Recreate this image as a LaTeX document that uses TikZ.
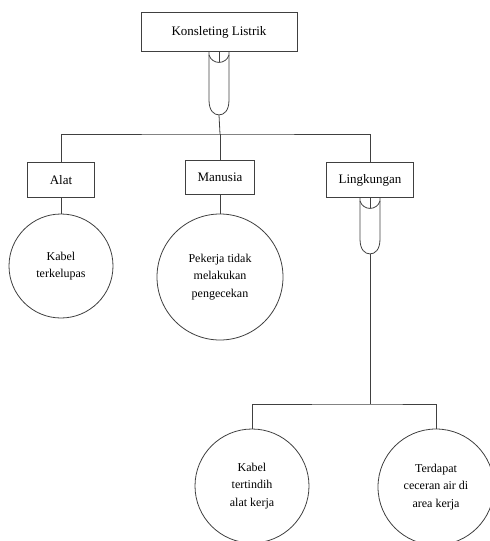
\documentclass[tikz,border=0pt]{standalone}
\usepackage{fontspec}
\setmainfont{Liberation Serif}

\tikzset{
  pics/gate/.style={code={
    \draw (-10,0) -- (-10,#1-15) .. controls (-10,#1-4) and (-5,#1) .. (0,#1)
          .. controls (5,#1) and (10,#1-4) .. (10,#1-15) -- (10,0);
    \draw (-10,3) .. controls (-7,13) and (7,13) .. (10,3);
    \coordinate (-cup) at (0,10.5);
    \coordinate (-bot) at (0,#1);
  }}
}

\begin{document}
\begin{tikzpicture}[x=1pt, y=-1pt, line width=0.8pt, draw=black!75,
    cause/.style ={rectangle, draw, inner sep=0pt, font=\fontsize{13}{15}\selectfont},
    effect/.style ={circle, draw, inner sep=0pt, align=center, font=\fontsize{12}{17.5}\selectfont}]
   \useasboundingbox (0,0) rectangle (490,541);

   \node[cause, minimum width=156pt, minimum height=39pt] (K) at (219,32) {Konsleting Listrik};
   \node[cause, minimum width=67pt, minimum height=35pt] (A) at (61,180) {Alat};
   \node[cause, minimum width=69pt, minimum height=34pt] (M) at (220,177) {Manusia};
   \node[cause, minimum width=87pt, minimum height=35pt] (L) at (370,180) {Lingkungan};

   \node[effect, minimum size=104pt] (A1) at (61,266) {Kabel\\terkelupas};
   \node[effect, minimum size=126pt] (M1) at (220,277) {Pekerja tidak\\melakukan\\pengecekan};
   \node[effect, minimum size=114pt] (L1) at (252,486) {Kabel\\tertindih\\alat kerja};
   \node[effect, minimum size=116pt] (L2) at (436,487) {Terdapat\\ceceran air di\\area kerja};

   \pic (g1) at (K.south) {gate=63};
   \pic (g2) at (L.south) {gate=56};
   \coordinate (bus1) at (220,134);
   \coordinate (bus2) at (370,404);

   \draw (K.south) -- (g1-cup);
   \draw (g1-bot) -- (bus1);
   \draw (A.north) |- (bus1) -| (L.north);
   \draw (bus1) -- (M.north);
   \draw (A.south) -- (A1.north);
   \draw (M.south) -- (M1.north);
   \draw (L.south) -- (g2-cup);
   \draw (g2-bot) -- (bus2);
   \draw (L1.north) |- (bus2) -| (L2.north);
 \end{tikzpicture}
\end{document}
